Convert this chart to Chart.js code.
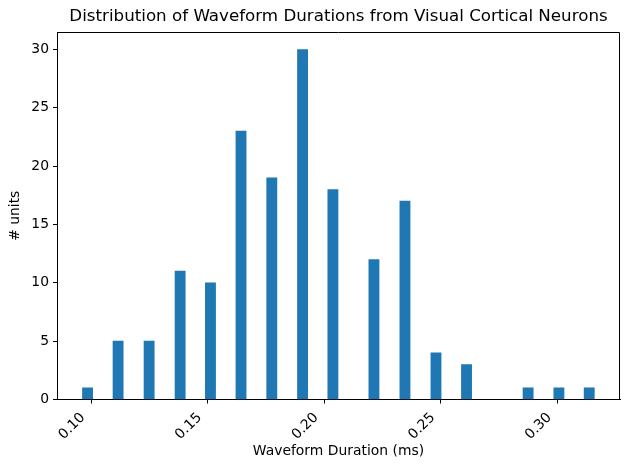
<!DOCTYPE html>
<html>
<head>
<meta charset="utf-8">
<script src="https://cdn.jsdelivr.net/npm/chart.js@4"></script>
<style>
  body { margin: 0; background: #fff; }
  #wrap { width: 630px; height: 470px; }
</style>
</head>
<body>
<div id="wrap"><canvas id="histChart" width="630" height="470"></canvas></div>
<script>
// bin centres (ms) and counts
const durations = [0.0985, 0.1116, 0.1249, 0.1382, 0.1512, 0.1643, 0.1775, 0.1907,
                   0.2037, 0.2213, 0.2346, 0.2479, 0.2610, 0.2874, 0.3006, 0.3136];
const counts = [1, 5, 5, 11, 10, 23, 19, 30, 18, 12, 17, 4, 3, 1, 1, 1];
const xTicks = [0.10, 0.15, 0.20, 0.25, 0.30];
const yTicks = [0, 5, 10, 15, 20, 25, 30];

const font = "'DejaVu Sans', sans-serif";
const ctx = document.getElementById("histChart").getContext("2d");

// top + right spines
const frame = {
  id: "frame",
  afterDatasetsDraw(chart) {
    const a = chart.chartArea, c = chart.ctx;
    c.save();
    c.strokeStyle = "#000";
    c.lineWidth = 1;
    c.beginPath();
    c.moveTo(Math.round(a.left) + 0.5, Math.round(a.top) + 0.5);
    c.lineTo(Math.round(a.right) - 0.5, Math.round(a.top) + 0.5);
    c.lineTo(Math.round(a.right) - 0.5, Math.round(a.bottom));
    c.stroke();
    c.restore();
  }
};

new Chart(ctx, {
  type: "bar",
  data: {
    datasets: [{
      data: durations.map((d, i) => ({ x: d, y: counts[i] })),
      backgroundColor: "#1f77b4",
      borderWidth: 0,
      barThickness: 10.2
    }]
  },
  options: {
    responsive: false,
    animation: false,
    layout: { padding: { left: 0, right: 10, top: 0, bottom: 0 } },
    plugins: {
      legend: { display: false },
      tooltip: { enabled: false },
      title: {
        display: true,
        text: "Distribution of Waveform Durations from Visual Cortical Neurons",
        fullSize: false,
        color: "#000",
        font: { family: font, size: 16.7, weight: "normal" },
        padding: { top: 6.5, bottom: 5.5 }
      }
    },
    scales: {
      x: {
        type: "linear",
        offset: false,
        min: 0.0854,
        max: 0.3268,
        afterBuildTicks: s => { s.ticks = xTicks.map(v => ({ value: v })); },
        afterFit: s => { s.height = 70.5; },
        ticks: {
          autoSkip: false,
          minRotation: 45,
          maxRotation: 45,
          padding: 6,
          labelOffset: -8,
          color: "#000",
          font: { family: font, size: 13.9 },
          callback: v => v.toFixed(2)
        },
        grid: { offset: false, drawOnChartArea: false, drawTicks: true, tickLength: 4, tickColor: "#000" },
        border: { display: true, color: "#000", width: 1 },
        title: {
          display: true,
          text: "Waveform Duration (ms)",
          color: "#000",
          font: { family: font, size: 13.9 },
          padding: { top: 4, bottom: 10.5 }
        }
      },
      y: {
        min: 0,
        max: 31.5,
        afterBuildTicks: s => { s.ticks = yTicks.map(v => ({ value: v })); },
        afterFit: s => { s.width = 57; },
        ticks: {
          padding: 4,
          color: "#000",
          font: { family: font, size: 13.9 }
        },
        grid: { drawOnChartArea: false, drawTicks: true, tickLength: 4, tickColor: "#000" },
        border: { display: true, color: "#000", width: 1 },
        title: {
          display: true,
          text: "# units",
          color: "#000",
          font: { family: font, size: 13.9 },
          padding: { top: 7, bottom: 4 }
        }
      }
    }
  },
  plugins: [frame]
});
</script>
</body>
</html>
